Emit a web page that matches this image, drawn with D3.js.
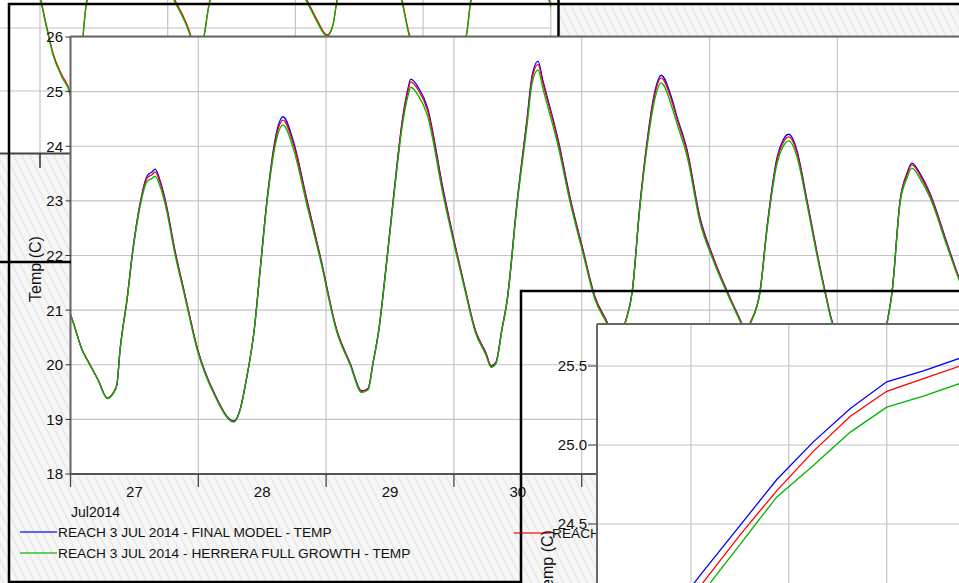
<!DOCTYPE html>
<html><head><meta charset="utf-8">
<script src="https://cdn.jsdelivr.net/npm/d3@7"></script>
<style>
html,body{margin:0;padding:0;background:#fff;overflow:hidden}
svg{display:block;font-family:"Liberation Sans",Arial,sans-serif}
</style></head><body>
<script>
// ---- Main chart: samples from 27 Jul 2014 00:00 (hours) ----
const hours = [0,0.5,2.2,3.5,5.2,6.9,8.0,8.7,9.3,10.6,
  11.7,13.0,14.4,15.3,15.9,16.8,17.8,19.6,21.5,23.8,
  27.0,30.7,31.8,33.0,34.5,35.6,36.9,38.8,39.9,41.8,
  44.4,46.9,50.0,52.5,54.7,55.9,56.8,57.9,59.3,60.6,
  62.4,63.4,63.9,65.3,67.0,70.0,72.2,74.1,76.0,78.0,
  79.0,79.9,81.0,82.0,83.9,85.7,86.7,87.8,88.7,91.6,
  93.8,96.1,98.5,100.9,102.6,104.1,105.5,106.9,108.3,109.8,
  110.9,113.0,113.9,115.8,118.2,120.7,123.3,126.1,126.9,127.6,
  129.5,130.8,132.7,133.8,134.9,136.4,138.3,140.2,141.7,143.2,
  146.0,150.8,152.4,153.3,154.3,155.8,157.1,158.0,159.7,161.4,
  164.6,166.8,169.9];
const finalModel = [20.92,20.78,20.27,20.03,19.72,19.39,19.48,19.63,20.27,21.19,
  22.10,22.92,23.46,23.53,23.58,23.38,23.02,22.10,21.28,20.31,
  19.48,18.97,19.17,19.72,20.64,21.73,23.02,24.30,24.54,24.11,
  23.02,21.99,20.64,20.03,19.52,19.57,20.03,20.64,21.83,23.02,
  24.54,25.07,25.23,25.08,24.72,23.20,22.20,21.40,20.64,20.22,
  19.98,20.05,20.64,21.19,23.02,24.48,25.30,25.56,25.21,24.11,
  23.07,22.16,21.24,20.75,20.27,20.75,21.35,22.90,24.11,25.03,
  25.30,24.85,24.54,23.93,22.70,21.97,21.35,20.75,20.58,20.75,
  21.35,22.52,23.80,24.11,24.22,23.93,23.02,22.05,21.35,20.75,
  20.45,20.20,20.35,20.75,21.35,23.02,23.51,23.69,23.47,23.14,
  22.23,21.61,21.00];
const existing = [20.92,20.78,20.27,20.03,19.72,19.39,19.48,19.63,20.27,21.19,
  22.09,22.90,23.42,23.48,23.53,23.34,22.99,22.08,21.27,20.30,
  19.47,18.96,19.16,19.72,20.64,21.72,23.00,24.25,24.48,24.06,
  22.99,21.97,20.63,20.02,19.51,19.56,20.03,20.64,21.82,23.00,
  24.50,25.02,25.18,25.03,24.67,23.16,22.18,21.39,20.63,20.21,
  19.97,20.04,20.64,21.18,23.00,24.43,25.25,25.50,25.16,24.07,
  23.04,22.14,21.23,20.74,20.26,20.75,21.35,22.88,24.07,24.98,
  25.25,24.80,24.50,23.89,22.67,21.95,21.34,20.74,20.57,20.75,
  21.35,22.50,23.76,24.06,24.17,23.89,22.99,22.03,21.34,20.74,
  20.44,20.19,20.35,20.75,21.35,23.00,23.48,23.66,23.44,23.11,
  22.21,21.60,20.99];
const fullGrowth = [20.91,20.77,20.26,20.02,19.71,19.38,19.47,19.62,20.25,21.16,
  22.06,22.86,23.36,23.41,23.45,23.27,22.93,22.03,21.23,20.27,
  19.45,18.95,19.15,19.71,20.63,21.70,22.96,24.17,24.39,23.97,
  22.92,21.93,20.60,20.00,19.49,19.54,20.01,20.62,21.80,22.96,
  24.43,24.93,25.08,24.93,24.57,23.09,22.13,21.35,20.60,20.18,
  19.95,20.02,20.62,21.16,22.95,24.35,25.16,25.40,25.06,23.99,
  22.98,22.09,21.19,20.71,20.24,20.73,21.33,22.84,24.00,24.89,
  25.16,24.70,24.41,23.81,22.61,21.91,21.31,20.72,20.55,20.73,
  21.33,22.46,23.69,23.99,24.10,23.82,22.94,21.99,21.31,20.72,
  20.42,20.17,20.33,20.73,21.33,22.96,23.42,23.60,23.38,23.06,
  22.17,21.57,20.97];
const yTicks = [18,19,20,21,22,23,24,25,26];
const legendLabels = [
  "REACH 3 JUL 2014 - FINAL MODEL - TEMP",
  "REACH 3 JUL 2014 - HERRERA FULL GROWTH - TEMP",
  "REACH 3 JUL 2014 - EXISTING CONDITIONS - TEMP"];

// ---- Window behind: same gauge, earlier days ----
const backDays = [-0.04,0.055,0.102,0.172,0.235,0.29,0.337,0.368,0.666,1.057,
  1.182,1.23,1.284,1.331,1.68,2.091,2.169,2.247,2.294,2.326,
  2.58,2.835,2.897,3.09,3.336,3.375,3.68,3.994,4.07];
const backExisting = [24.92,24.00,23.60,23.25,22.98,22.22,23.87,24.44,25.56,24.44,
  23.87,23.49,23.87,24.44,25.56,24.44,24.13,23.89,24.05,24.44,
  25.56,24.44,23.87,23.33,23.87,24.44,25.56,24.41,23.81];
const backGrowth = [24.90,23.97,23.57,23.22,22.95,22.20,23.86,24.43,25.45,24.41,
  23.84,23.47,23.86,24.43,25.45,24.41,24.10,23.87,24.04,24.43,
  25.45,24.41,23.84,23.31,23.86,24.43,25.45,24.38,23.78];

// ---- Zoomed window: rising limb of the 30 Jul peak (minutes) ----
const zoomMinutes = [-10,5,20,35,50,65,80,95,110];
const zoomFinal = [23.90,24.20,24.49,24.78,25.02,25.23,25.40,25.47,25.55];
const zoomExisting = [23.84,24.13,24.43,24.71,24.96,25.18,25.34,25.42,25.50];
const zoomGrowth = [23.78,24.07,24.37,24.67,24.87,25.08,25.24,25.31,25.39];
const zoomYTicks = [24.0,24.5,25.0,25.5];
const zoomXTicks = [0,40,80,120];

const W = 959, H = 583;
const BLUE = "#0000ff", RED = "#ff0000", GREEN = "#00b400";
const GRID = "#c4c4c4", FRAME = "#666";

const svg = d3.select("body").append("svg").attr("width", W).attr("height", H);
const defs = svg.append("defs");
const pat = defs.append("pattern").attr("id", "hatch")
  .attr("patternUnits", "userSpaceOnUse").attr("width", 8).attr("height", 16);
pat.append("rect").attr("width", 8).attr("height", 16).attr("fill", "#f6f6f6");
pat.append("path").attr("d", "M-8,0L0,16M0,0L8,16M8,0L16,16")
  .attr("stroke", "#e8e8e8").attr("stroke-width", 1.4);

svg.append("rect").attr("width", W).attr("height", H).attr("fill", "url(#hatch)");
svg.append("rect").attr("x", 558).attr("y", 0).attr("width", W - 558).attr("height", 3).attr("fill", "#fff");

// ================= window behind =================
const bx = d3.scaleLinear().domain([0, 4]).range([40, 550.8]);
const by = d3.scaleLinear().domain([22, 25.5]).range([154, -66.5]);
defs.append("clipPath").attr("id", "clipB").append("rect")
  .attr("x", -10).attr("y", -70).attr("width", 560.8).attr("height", 224);
const gB = svg.append("g");
gB.append("rect").attr("x", -10).attr("y", -10).attr("width", 568).attr("height", 164).attr("fill", "#fff");
[23, 24].forEach(v => gB.append("line").attr("x1", -10).attr("x2", 550.8)
  .attr("y1", by(v)).attr("y2", by(v)).attr("stroke", GRID).attr("stroke-width", 1.2));
[0, 1, 2, 3, 4].forEach(d => gB.append("line").attr("x1", bx(d)).attr("x2", bx(d))
  .attr("y1", -10).attr("y2", 154).attr("stroke", GRID).attr("stroke-width", 1.2));
const bLine = d3.line().x((d, i) => bx(backDays[i])).y(d => by(d)).curve(d3.curveMonotoneX);
const gBs = gB.append("g").attr("clip-path", "url(#clipB)");
gBs.append("path").attr("d", bLine(backExisting)).attr("fill", "none").attr("stroke", RED).attr("stroke-width", 1.3);
gBs.append("path").attr("d", bLine(backGrowth)).attr("fill", "none").attr("stroke", GREEN).attr("stroke-width", 1.3);
gB.append("line").attr("x1", -10).attr("x2", 551).attr("y1", 153.5).attr("y2", 153.5)
  .attr("stroke", "#444").attr("stroke-width", 2);
gB.append("line").attr("x1", bx(0)).attr("x2", bx(0)).attr("y1", 154).attr("y2", 168)
  .attr("stroke", "#000").attr("stroke-width", 1.2);

// ================= main chart =================
const t0 = Date.UTC(2014, 6, 27);
const toDate = h => new Date(t0 + h * 3600e3);
const x = d3.scaleUtc().domain([toDate(0), toDate(168)]).range([70.5, 965.1]);
const y = d3.scaleLinear().domain([18, 26]).range([474, 37]);
const pl = 70.5, pt = 36.5, pb = 474, pr = 970;

const gM = svg.append("g");
gM.append("rect").attr("x", pl).attr("y", pt).attr("width", pr - pl).attr("height", pb - pt).attr("fill", "#fff");
yTicks.forEach(v => gM.append("line").attr("x1", pl).attr("x2", pr)
  .attr("y1", y(v)).attr("y2", y(v)).attr("stroke", GRID).attr("stroke-width", 1.2));
const days = d3.utcDay.range(toDate(0), toDate(169));
days.forEach(d => gM.append("line").attr("x1", x(d)).attr("x2", x(d))
  .attr("y1", pt).attr("y2", pb).attr("stroke", GRID).attr("stroke-width", 1.2));

defs.append("clipPath").attr("id", "clipM").append("rect")
  .attr("x", pl).attr("y", pt).attr("width", pr - pl).attr("height", pb - pt);
const mLine = d3.line().x((d, i) => x(toDate(hours[i]))).y(d => y(d)).curve(d3.curveMonotoneX);
const gS = gM.append("g").attr("clip-path", "url(#clipM)");
[[finalModel, BLUE], [existing, RED], [fullGrowth, GREEN]].forEach(([s, c]) =>
  gS.append("path").attr("d", mLine(s)).attr("fill", "none").attr("stroke", c)
    .attr("stroke-width", 1.3).attr("stroke-linejoin", "round"));

// plot frame
gM.append("line").attr("x1", pl).attr("x2", pr).attr("y1", pt).attr("y2", pt).attr("stroke", FRAME).attr("stroke-width", 2);
gM.append("line").attr("x1", pl).attr("x2", pl).attr("y1", pt).attr("y2", pb).attr("stroke", FRAME).attr("stroke-width", 2);
gM.append("line").attr("x1", pl).attr("x2", pr).attr("y1", pb).attr("y2", pb).attr("stroke", "#555").attr("stroke-width", 2);

// y axis
yTicks.forEach(v => {
  gM.append("line").attr("x1", pl - 5).attr("x2", pl).attr("y1", y(v)).attr("y2", y(v)).attr("stroke", "#333");
  gM.append("text").attr("x", 63).attr("y", y(v)).attr("dy", "0.36em").attr("text-anchor", "end")
    .attr("font-size", 15).attr("fill", "#111").text(v);
});
gM.append("text").attr("transform", "translate(41,269) rotate(-90)").attr("text-anchor", "middle")
  .attr("font-size", 16).attr("fill", "#111").text("Temp (C)");

// x axis: midnight ticks, day labels at noon
days.forEach(d => gM.append("line").attr("x1", x(d)).attr("x2", x(d)).attr("y1", pb).attr("y2", pb + 13)
  .attr("stroke", "#444").attr("stroke-width", 1.3));
days.forEach(d => gM.append("text").attr("x", x(d3.utcHour.offset(d, 12))).attr("y", 497)
  .attr("text-anchor", "middle").attr("font-size", 15).attr("fill", "#111").text(d3.utcFormat("%-d")(d)));
gM.append("text").attr("x", 71).attr("y", 517).attr("font-size", 14).attr("fill", "#111").text("Jul2014");

// legend
const legendPos = [[20, 532], [20, 553], [514, 533]];
const legendCol = [BLUE, GREEN, RED];
legendLabels.forEach((lab, i) => {
  const [lx, ly] = legendPos[i];
  gM.append("line").attr("x1", lx).attr("x2", lx + 37).attr("y1", ly).attr("y2", ly)
    .attr("stroke", legendCol[i]).attr("stroke-width", 1.4).attr("opacity", 0.8);
  gM.append("text").attr("x", lx + 38).attr("y", ly + 5).attr("font-size", 13.7).attr("fill", "#111").text(lab);
});

// window frames
const blk = (x1, y1, x2, y2, w) => svg.append("line").attr("x1", x1).attr("y1", y1).attr("x2", x2).attr("y2", y2)
  .attr("stroke", "#000").attr("stroke-width", w);
blk(9, 3, 9, 583, 2.5);
blk(8, 4, 959, 4, 2.5);
blk(558.5, 0, 558.5, 36, 2.5);
blk(9, 582, 521, 582, 2.5);
blk(0, 262, 71, 262, 2.5);

// ================= zoomed window =================
const zx = d3.scaleLinear().domain([-38.4, 120]).range([597, 984.6]);
const zy = d3.scaleLinear().domain([24.0, 25.766]).range([603, 324]);
blk(520, 291, 959, 291, 2.5);
blk(521, 290, 521, 583, 2.5);
zoomYTicks.forEach(v => {
  svg.append("line").attr("x1", 588).attr("x2", 597).attr("y1", zy(v)).attr("y2", zy(v)).attr("stroke", "#333");
  svg.append("text").attr("x", 587).attr("y", zy(v)).attr("dy", "0.36em").attr("text-anchor", "end")
    .attr("font-size", 15).attr("fill", "#111").text(d3.format(".1f")(v));
});
svg.append("text").attr("transform", "translate(553,563) rotate(-90)").attr("text-anchor", "middle")
  .attr("font-size", 16).attr("fill", "#111").text("Temp (C)");

const gZ = svg.append("g");
gZ.append("rect").attr("x", 597).attr("y", 324).attr("width", 400).attr("height", 300).attr("fill", "#fff");
zoomYTicks.forEach(v => gZ.append("line").attr("x1", 597).attr("x2", 990).attr("y1", zy(v)).attr("y2", zy(v))
  .attr("stroke", GRID).attr("stroke-width", 1.2));
zoomXTicks.forEach(v => gZ.append("line").attr("x1", zx(v)).attr("x2", zx(v)).attr("y1", 324).attr("y2", 620)
  .attr("stroke", GRID).attr("stroke-width", 1.2));
defs.append("clipPath").attr("id", "clipZ").append("rect").attr("x", 597).attr("y", 324).attr("width", 400).attr("height", 300);
const zLine = d3.line().x((d, i) => zx(zoomMinutes[i])).y(d => zy(d));
const gZs = gZ.append("g").attr("clip-path", "url(#clipZ)");
[[zoomFinal, BLUE], [zoomExisting, RED], [zoomGrowth, GREEN]].forEach(([s, c]) =>
  gZs.append("path").attr("d", zLine(s)).attr("fill", "none").attr("stroke", c).attr("stroke-width", 1.3));
gZ.append("line").attr("x1", 597).attr("x2", 990).attr("y1", 324).attr("y2", 324).attr("stroke", FRAME).attr("stroke-width", 2);
gZ.append("line").attr("x1", 597).attr("x2", 597).attr("y1", 324).attr("y2", 620).attr("stroke", FRAME).attr("stroke-width", 2);
</script>
</body></html>
